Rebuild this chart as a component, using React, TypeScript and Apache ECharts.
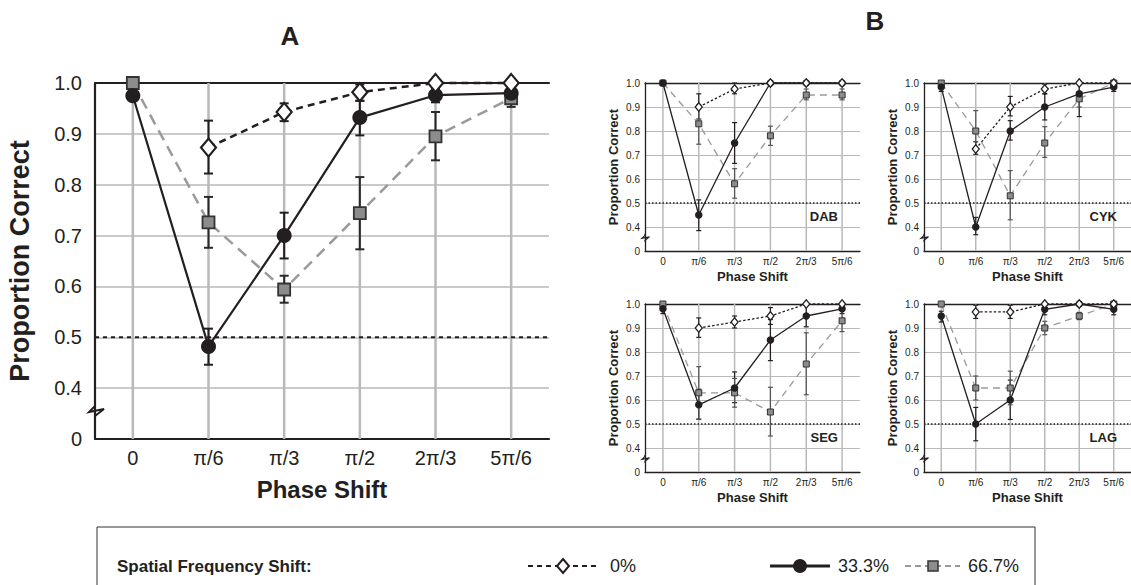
import React, { useEffect, useRef } from 'react';
import * as echarts from 'echarts';

// ---------- data ----------
const phaseLabels = ['0', 'π/6', 'π/3', 'π/2', '2π/3', '5π/6'];
const legendNames = ['0%', '33.3%', '66.7%'];
const panelNames = ['A', 'DAB', 'CYK', 'SEG', 'LAG'];

// Panel A (group mean)
const A_sf0 = [null, 0.873, 0.943, 0.982, 1.0, 1.0];
const A_sf0_lo = [null, 0.822, 0.925, 0.965, null, null];
const A_sf0_hi = [null, 0.926, 0.96, 0.997, null, null];
const A_sf33 = [0.975, 0.482, 0.70, 0.932, 0.976, 0.98];
const A_sf33_lo = [null, 0.446, 0.655, 0.897, 0.962, 0.965];
const A_sf33_hi = [null, 0.517, 0.745, 0.965, 0.99, 0.995];
const A_sf67 = [1.0, 0.726, 0.594, 0.744, 0.895, 0.97];
const A_sf67_lo = [null, 0.676, 0.568, 0.673, 0.848, 0.953];
const A_sf67_hi = [null, 0.776, 0.621, 0.815, 0.943, 0.985];

// DAB
const DAB_sf0 = [null, 0.90, 0.975, 1.0, 1.0, 1.0];
const DAB_sf0_lo = [null, 0.85, 0.955, null, null, null];
const DAB_sf0_hi = [null, 0.955, 1.0, null, null, null];
const DAB_sf33 = [1.0, 0.45, 0.75, 1.0, 1.0, 1.0];
const DAB_sf33_lo = [null, 0.385, 0.665, null, null, null];
const DAB_sf33_hi = [null, 0.513, 0.835, null, null, null];
const DAB_sf67 = [1.0, 0.83, 0.58, 0.78, 0.95, 0.95];
const DAB_sf67_lo = [null, 0.745, 0.52, 0.74, 0.93, 0.93];
const DAB_sf67_hi = [null, 0.91, 0.643, 0.82, 0.975, 0.975];

// CYK
const CYK_sf0 = [null, 0.725, 0.90, 0.975, 1.0, 1.0];
const CYK_sf0_lo = [null, 0.703, 0.863, 0.955, null, null];
const CYK_sf0_hi = [null, 0.755, 0.944, 0.995, null, null];
const CYK_sf33 = [0.983, 0.40, 0.80, 0.90, 0.955, 0.983];
const CYK_sf33_lo = [0.965, 0.368, 0.762, 0.846, 0.86, 0.965];
const CYK_sf33_hi = [1.0, 0.44, 0.843, 0.955, 0.995, 1.0];
const CYK_sf67 = [1.0, 0.80, 0.53, 0.75, 0.934, 1.0];
const CYK_sf67_lo = [null, 0.723, 0.43, 0.69, 0.9, null];
const CYK_sf67_hi = [null, 0.885, 0.635, 0.818, 0.96, null];

// SEG
const SEG_sf0 = [null, 0.90, 0.925, 0.95, 1.0, 1.0];
const SEG_sf0_lo = [null, 0.861, 0.90, 0.915, null, null];
const SEG_sf0_hi = [null, 0.942, 0.95, 0.985, null, null];
const SEG_sf33 = [0.98, 0.58, 0.65, 0.85, 0.95, 0.98];
const SEG_sf33_lo = [0.96, 0.52, 0.589, 0.764, 0.905, 0.96];
const SEG_sf33_hi = [1.0, 0.645, 0.717, 0.935, 0.995, 1.0];
const SEG_sf67 = [1.0, 0.63, 0.63, 0.55, 0.75, 0.93];
const SEG_sf67_lo = [null, 0.52, 0.57, 0.45, 0.622, 0.885];
const SEG_sf67_hi = [null, 0.739, 0.69, 0.653, 0.88, 0.975];

// LAG
const LAG_sf0 = [null, 0.967, 0.967, 1.0, 1.0, 1.0];
const LAG_sf0_lo = [null, 0.94, 0.94, null, null, null];
const LAG_sf0_hi = [null, 0.995, 0.995, null, null, null];
const LAG_sf33 = [0.95, 0.50, 0.60, 0.978, 1.0, 0.978];
const LAG_sf33_lo = [0.925, 0.43, 0.519, 0.955, null, 0.955];
const LAG_sf33_hi = [0.97, 0.569, 0.683, 0.995, null, 0.995];
const LAG_sf67 = [1.0, 0.65, 0.65, 0.90, 0.95, 1.0];
const LAG_sf67_lo = [null, 0.60, 0.58, 0.872, 0.935, null];
const LAG_sf67_hi = [null, 0.70, 0.72, 0.928, 0.965, null];

const panelData = [
  [[A_sf0, A_sf0_lo, A_sf0_hi], [A_sf33, A_sf33_lo, A_sf33_hi], [A_sf67, A_sf67_lo, A_sf67_hi]],
  [[DAB_sf0, DAB_sf0_lo, DAB_sf0_hi], [DAB_sf33, DAB_sf33_lo, DAB_sf33_hi], [DAB_sf67, DAB_sf67_lo, DAB_sf67_hi]],
  [[CYK_sf0, CYK_sf0_lo, CYK_sf0_hi], [CYK_sf33, CYK_sf33_lo, CYK_sf33_hi], [CYK_sf67, CYK_sf67_lo, CYK_sf67_hi]],
  [[SEG_sf0, SEG_sf0_lo, SEG_sf0_hi], [SEG_sf33, SEG_sf33_lo, SEG_sf33_hi], [SEG_sf67, SEG_sf67_lo, SEG_sf67_hi]],
  [[LAG_sf0, LAG_sf0_lo, LAG_sf0_hi], [LAG_sf33, LAG_sf33_lo, LAG_sf33_hi], [LAG_sf67, LAG_sf67_lo, LAG_sf67_hi]],
];

// ---------- layout ----------
const W = 1131;
const H = 585;
const FONT = '"Liberation Sans", Arial, Helvetica, sans-serif';
const INK = '#231f20';
const GRID_GRAY = '#b9b9b9';

const grids = [
  { left: 95, top: 83, width: 454, height: 356, big: true },
  { left: 645, top: 83, width: 215, height: 168, big: false },
  { left: 924, top: 83, width: 215, height: 168, big: false },
  { left: 645, top: 304, width: 215, height: 168, big: false },
  { left: 924, top: 304, width: 215, height: 168, big: false },
];

const Y_MIN = 0.3; // displayed as "0" (broken axis)
const Y_MAX = 1.0;

function buildOption() {
  const xAxis: any[] = [];
  const yAxis: any[] = [];
  const series: any[] = [];
  const graphic: any[] = [];

  grids.forEach((g, k) => {
    const big = g.big;
    xAxis.push({
      type: 'value', gridIndex: k, min: -0.5, max: 5.5, interval: 0.5,
      position: 'bottom',
      name: 'Phase Shift', nameLocation: 'middle', nameGap: big ? 38 : 19,
      nameTextStyle: { fontFamily: FONT, fontWeight: 'bold', fontSize: big ? 24 : 13, color: INK },
      axisLine: { show: true, onZero: false, lineStyle: { color: INK, width: big ? 2.2 : 1.3 } },
      axisTick: { show: false },
      splitLine: { show: false },
      axisLabel: {
        margin: big ? 9 : 5, fontFamily: FONT, fontSize: big ? 20 : 10, color: INK,
        showMinLabel: false, showMaxLabel: false,
        formatter: (v: number) => (Number.isInteger(v) && v >= 0 && v < phaseLabels.length ? phaseLabels[v] : ''),
      },
    });
    xAxis.push({
      type: 'value', gridIndex: k, min: -0.5, max: 5.5, interval: 0.5, position: 'top',
      axisLine: { show: true, onZero: false, lineStyle: { color: INK, width: big ? 2.2 : 1.3 } },
      axisTick: { show: false }, axisLabel: { show: false }, splitLine: { show: false },
    });
    yAxis.push({
      type: 'value', gridIndex: k, min: Y_MIN, max: Y_MAX, interval: 0.1,
      name: 'Proportion Correct', nameLocation: 'middle', nameGap: big ? 62 : 25,
      nameTextStyle: { fontFamily: FONT, fontWeight: 'bold', fontSize: big ? 27 : 13, color: INK },
      axisLine: { show: true, onZero: false, lineStyle: { color: INK, width: big ? 2.2 : 1.3 } },
      axisTick: { show: false },
      splitLine: { show: true, lineStyle: { color: GRID_GRAY, width: big ? 1.5 : 1 } },
      axisLabel: {
        margin: big ? 13 : 5, fontFamily: FONT, fontSize: big ? 20 : 10, color: INK,
        formatter: (v: number) => (Math.abs(v - Y_MIN) < 1e-6 ? '0' : v.toFixed(1)),
      },
    });

    const xi = k * 2;
    // vertical grid lines at each phase shift
    series.push({
      type: 'custom', xAxisIndex: xi, yAxisIndex: k, z: 1, silent: true, clip: false,
      data: phaseLabels.map((_, i) => [i, Y_MIN, Y_MAX]),
      encode: { x: 0, y: [1, 2] },
      renderItem: (params: any, api: any) => {
        const x = api.value(0);
        const p1 = api.coord([x, api.value(1)]);
        const p2 = api.coord([x, api.value(2)]);
        return { type: 'line', shape: { x1: p1[0], y1: p1[1], x2: p2[0], y2: p2[1] },
          style: { stroke: GRID_GRAY, lineWidth: big ? 2.5 : 1.5 } };
      },
    });
    // chance line at 0.5
    series.push({
      type: 'custom', xAxisIndex: xi, yAxisIndex: k, z: 2, silent: true, clip: false,
      data: [[0, 0.5]],
      encode: { x: 0, y: 1 },
      renderItem: (params: any, api: any) => {
        const cs = params.coordSys;
        const p = api.coord([api.value(0), api.value(1)]);
        return { type: 'line', shape: { x1: cs.x, y1: p[1], x2: cs.x + cs.width, y2: p[1] },
          style: { stroke: INK, lineWidth: big ? 2 : 1.3, lineDash: big ? [4, 4] : [1.5, 2] } };
      },
    });

    const [d0, d33, d67] = panelData[k];
    const errColors = [INK, INK, big ? '#2a2a2a' : '#555'];
    [d0, d33, d67].forEach((d, c) => {
      const [, lo, hi] = d;
      const errData = lo.map((l, i) => (l == null || hi[i] == null ? null : [i, l, hi[i]])).filter(Boolean);
      const cap = big ? 4.5 : 2.5;
      const col = errColors[c];
      const lw = big ? 2 : 1.2;
      series.push({
        type: 'custom', xAxisIndex: xi, yAxisIndex: k, z: 3, silent: true, clip: false,
        data: errData, encode: { x: 0, y: [1, 2] },
        renderItem: (params: any, api: any) => {
          const x = api.value(0);
          const a = api.coord([x, api.value(1)]);
          const b = api.coord([x, api.value(2)]);
          const st = { stroke: col, lineWidth: lw };
          return { type: 'group', children: [
            { type: 'line', shape: { x1: a[0], y1: a[1], x2: b[0], y2: b[1] }, style: st },
            { type: 'line', shape: { x1: a[0] - cap, y1: a[1], x2: a[0] + cap, y2: a[1] }, style: st },
            { type: 'line', shape: { x1: b[0] - cap, y1: b[1], x2: b[0] + cap, y2: b[1] }, style: st },
          ] };
        },
      });
    });

    const toPts = (vals: (number | null)[]) => vals.map((v, i) => (v == null ? null : [i, v])).filter(Boolean);
    // 66.7%
    series.push({
      name: legendNames[2], type: 'line', xAxisIndex: xi, yAxisIndex: k, z: 4, clip: false,
      data: toPts(d67[0]), symbol: 'rect', symbolSize: big ? 12 : 6,
      itemStyle: { color: '#8c8c8c', borderColor: '#333', borderWidth: big ? 1.8 : 1 },
      lineStyle: { color: '#9a9a9a', width: big ? 2.5 : 1.3, type: big ? [11, 7] : [7, 5] },
    });
    // 33.3%
    series.push({
      name: legendNames[1], type: 'line', xAxisIndex: xi, yAxisIndex: k, z: 5, clip: false,
      data: toPts(d33[0]), symbol: 'circle', symbolSize: big ? 15 : 7.5,
      itemStyle: { color: INK, borderColor: INK, borderWidth: 0 },
      lineStyle: { color: INK, width: big ? 2.2 : 1.3, type: 'solid' },
    });
    // 0%
    series.push({
      name: legendNames[0], type: 'line', xAxisIndex: xi, yAxisIndex: k, z: 6, clip: false,
      data: toPts(d0[0]), symbol: 'diamond', symbolSize: big ? [15, 18] : [7, 8.5],
      itemStyle: { color: '#fff', borderColor: INK, borderWidth: big ? 2.2 : 1.3 },
      lineStyle: { color: INK, width: big ? 2.5 : 1.3, type: big ? [7, 5] : [2.5, 2] },
    });

    // axis break mark on the y axis
    const unit = g.height / ((Y_MAX - Y_MIN) / 0.1);
    const by = g.top + g.height - unit * 0.55;
    const a = big ? 1 : 0.5;
    const x0 = g.left;
    graphic.push({
      type: 'group', z: 100, children: [
        { type: 'rect', shape: { x: x0 - 2, y: by - 8 * a, width: 4, height: 16 * a }, style: { fill: '#fff' } },
        { type: 'polyline', shape: { points: [
          [x0, by - 8 * a], [x0, by - 5 * a], [x0 - 6 * a, by + 1 * a], [x0 + 9 * a, by - 2 * a], [x0, by + 5 * a], [x0, by + 8 * a],
        ] }, style: { stroke: INK, lineWidth: big ? 2 : 1.2, fill: null } },
      ],
    });

    if (!big) {
      graphic.push({
        type: 'text', z: 100, x: g.left + g.width - 22, y: g.top + 133,
        style: { text: panelNames[k], font: `bold 13px ${FONT}`, fill: INK, align: 'right', verticalAlign: 'middle' },
      });
    }
  });

  // panel letters
  graphic.push({ type: 'text', x: 290, y: 36, style: { text: 'A', font: `bold 26px "Liberation Sans Narrow", ${FONT}`, fill: INK, align: 'center', verticalAlign: 'middle' } });
  graphic.push({ type: 'text', x: 875, y: 21, style: { text: 'B', font: `bold 26px "Liberation Sans Narrow", ${FONT}`, fill: INK, align: 'center', verticalAlign: 'middle' } });

  // legend box
  const ly = 566;
  graphic.push({ type: 'rect', shape: { x: 97, y: 527, width: 938, height: 80 }, style: { fill: 'none', stroke: '#333', lineWidth: 1 } });
  graphic.push({ type: 'text', x: 117, y: ly, style: { text: 'Spatial Frequency Shift:', font: `bold 17px ${FONT}`, fill: INK, verticalAlign: 'middle' } });
  // 0%
  graphic.push({ type: 'line', shape: { x1: 528, y1: ly, x2: 598, y2: ly }, style: { stroke: INK, lineWidth: 2, lineDash: [5, 4] } });
  graphic.push({ type: 'polygon', shape: { points: [[563, ly - 7], [569, ly], [563, ly + 7], [557, ly]] }, style: { fill: '#fff', stroke: INK, lineWidth: 2 } });
  graphic.push({ type: 'text', x: 610, y: ly, style: { text: legendNames[0], font: `18px ${FONT}`, fill: INK, verticalAlign: 'middle' } });
  // 33.3%
  graphic.push({ type: 'line', shape: { x1: 770, y1: ly, x2: 830, y2: ly }, style: { stroke: INK, lineWidth: 3 } });
  graphic.push({ type: 'circle', shape: { cx: 800, cy: ly, r: 7 }, style: { fill: INK } });
  graphic.push({ type: 'text', x: 838, y: ly, style: { text: legendNames[1], font: `18px ${FONT}`, fill: INK, verticalAlign: 'middle' } });
  // 66.7%
  graphic.push({ type: 'line', shape: { x1: 905, y1: ly, x2: 960, y2: ly }, style: { stroke: '#9a9a9a', lineWidth: 2, lineDash: [6, 4] } });
  graphic.push({ type: 'rect', shape: { x: 928, y: ly - 5, width: 10, height: 10 }, style: { fill: '#8c8c8c', stroke: '#333', lineWidth: 1.5 } });
  graphic.push({ type: 'text', x: 968, y: ly, style: { text: legendNames[2], font: `18px ${FONT}`, fill: INK, verticalAlign: 'middle' } });

  return {
    animation: false,
    backgroundColor: '#fff',
    textStyle: { fontFamily: FONT },
    grid: grids.map((g) => ({ left: g.left, top: g.top, width: g.width, height: g.height, containLabel: false })),
    xAxis, yAxis, series, graphic,
  };
}

export default function App() {
  const ref = useRef<HTMLDivElement>(null);
  useEffect(() => {
    document.body.style.margin = '0';
    const chart = echarts.init(ref.current!, null, { renderer: 'svg' });
    chart.setOption(buildOption() as any);
    return () => chart.dispose();
  }, []);
  return <div ref={ref} style={{ position: 'fixed', left: 0, top: 0, width: W, height: H }} />;
}
